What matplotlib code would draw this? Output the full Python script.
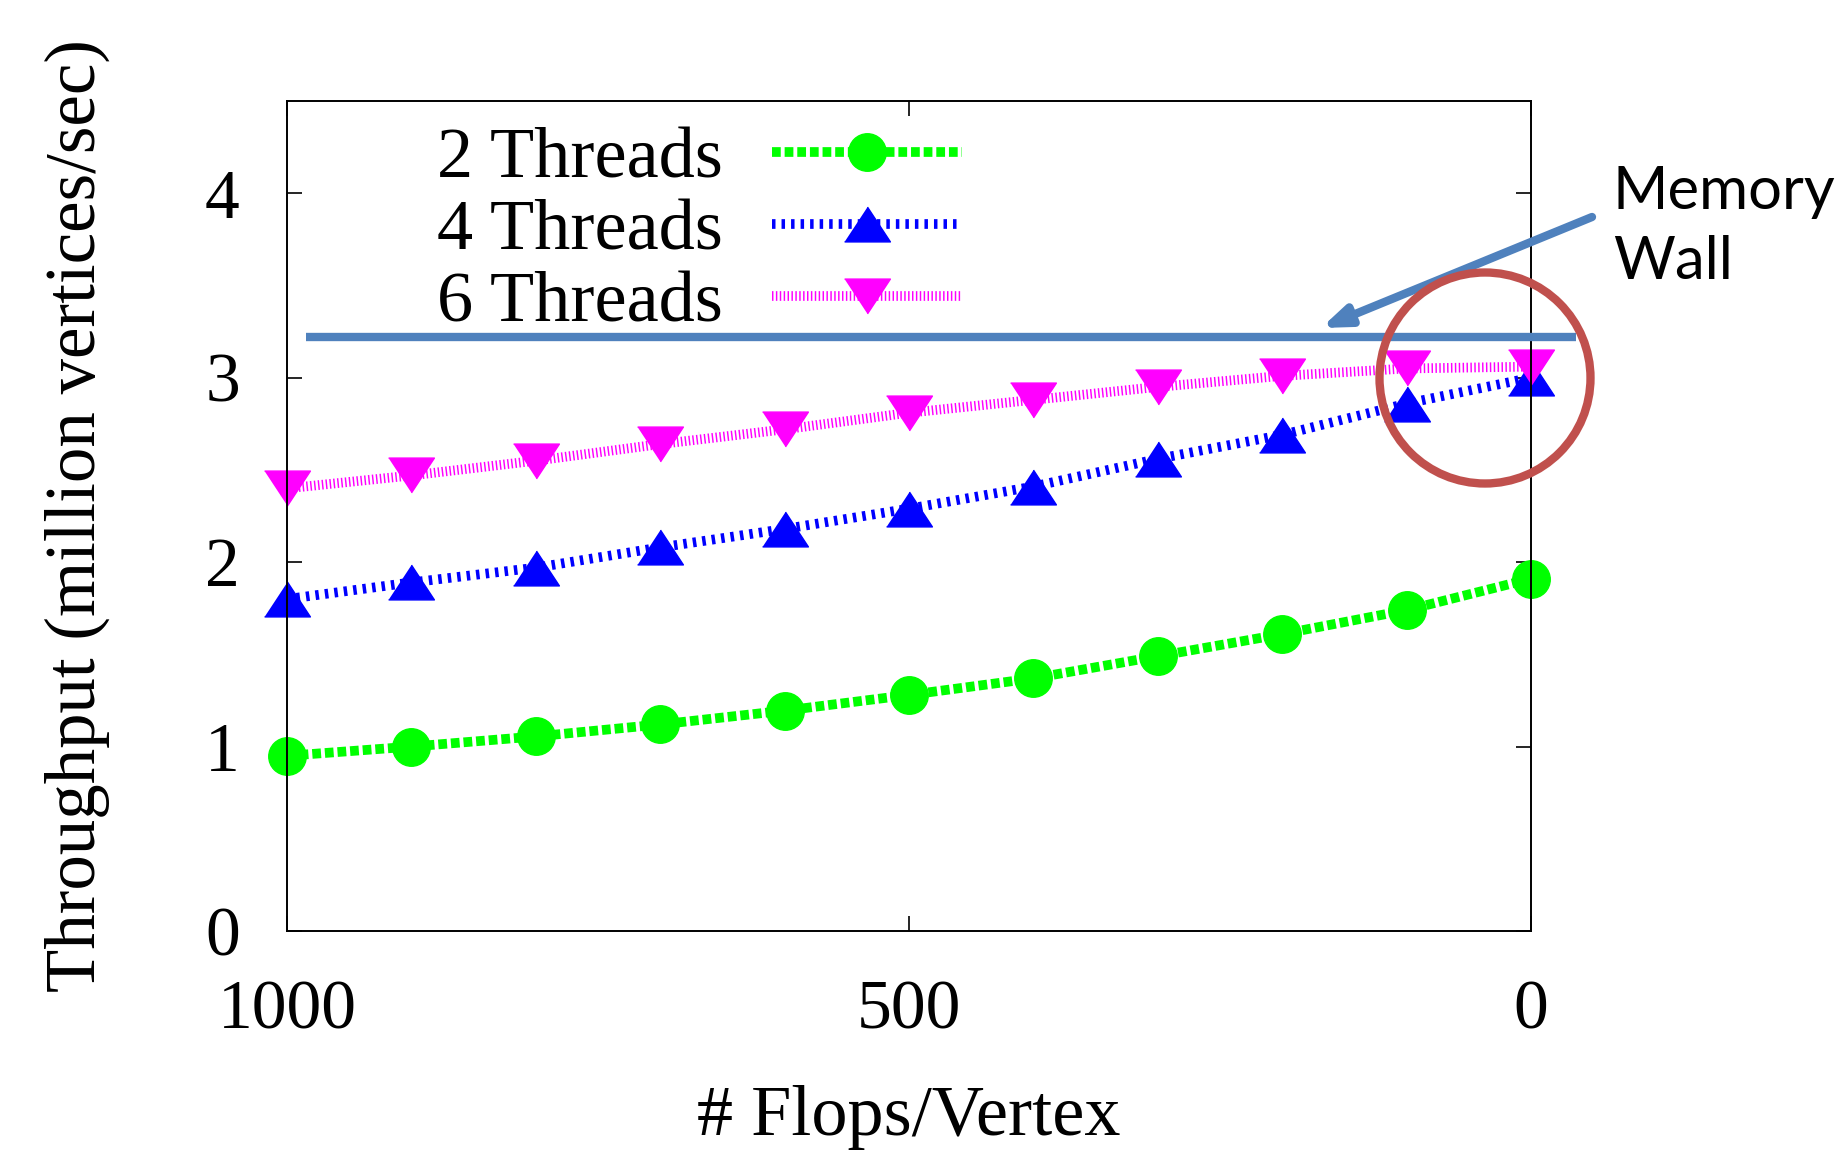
import matplotlib.pyplot as plt
from matplotlib.patches import Circle

flops = [1000, 900, 800, 700, 600, 500, 400, 300, 200, 100, 0]
threads2 = [0.95, 1.00, 1.055, 1.12, 1.195, 1.28, 1.37, 1.49, 1.61, 1.74, 1.91]
threads4 = [1.80, 1.89, 1.97, 2.08, 2.18, 2.29, 2.41, 2.56, 2.69, 2.86, 3.00]
threads6 = [2.40, 2.47, 2.55, 2.64, 2.72, 2.81, 2.88, 2.95, 3.01, 3.05, 3.06]
memory_wall = 3.22
wall_span = [985, -36]

serif = "Liberation Serif"
plt.rcParams["font.family"] = serif

fig = plt.figure(figsize=(18.45, 11.6), dpi=100)
ax = fig.add_axes([0.1556, 0.1974, 0.6742, 0.7155])

# wide triangles like gnuplot's
tri_up = [(-1, -0.76), (1, -0.76), (0, 0.76)]
tri_down = [(-1, 0.76), (1, 0.76), (0, -0.76)]

l2, = ax.plot(flops, threads2, color="#00ff00", lw=7, marker="o", ms=27,
              label="2 Threads", clip_on=False, solid_capstyle="butt")
l2.set_dashes((0.9, 0.4))
l2.set_dash_capstyle("butt")
l4, = ax.plot(flops, threads4, color="#0000ff", lw=7, marker=tri_up, ms=33,
              label="4 Threads", clip_on=False)
l4.set_dashes((0.36, 0.62))
l4.set_dash_capstyle("butt")
l6, = ax.plot(flops, threads6, color="#ff00ff", lw=7, marker=tri_down, ms=33,
              label="6 Threads", clip_on=False)
l6.set_dashes((0.15, 0.25))
l6.set_dash_capstyle("butt")

ax.set_xlim(1000, 0)
ax.set_ylim(0, 4.5)
ax.set_xticks([1000, 500, 0])
ax.set_yticks([0, 1, 2, 3, 4])
ax.tick_params(direction="in", top=True, right=True, length=11, width=1.2,
               labelsize=50)
ax.tick_params(axis="y", pad=34)
ax.tick_params(axis="x", pad=35)
for s in ax.spines.values():
    s.set_linewidth(1.4)

ax.set_xlabel("# Flops/Vertex", fontsize=52, labelpad=30)
ax.set_ylabel("Throughput (million vertices/sec)", fontsize=51)
ax.yaxis.set_label_coords(-0.142, 0.5)

ax.legend(loc="upper right", bbox_to_anchor=(998 / 1845, 1 - 91 / 1160),
          bbox_transform=fig.transFigure, frameon=False, markerfirst=False,
          fontsize=52, handlelength=2.63, handletextpad=0.68,
          labelspacing=0.09, borderpad=0, numpoints=1)

# memory wall annotation
ax.plot(wall_span, [memory_wall, memory_wall], color="#4f81bd", lw=6,
        clip_on=False, solid_capstyle="butt", zorder=4)
ax.annotate("", xy=(1321 / 1845, 1 - 328 / 1160), xycoords="figure fraction",
            xytext=(1592 / 1845, 1 - 217 / 1160), textcoords="figure fraction",
            arrowprops=dict(arrowstyle="-|>,head_length=1.6,head_width=0.6",
                            color="#4f81bd", lw=6, shrinkA=0, shrinkB=0))
fig.text(1613 / 1845, 1 - 279 / 1160, "Memory\nWall", fontsize=43,
         family="Lato", ha="left", va="baseline", linespacing=1.36)
fig.patches.append(Circle((14.85, 11.6 - 3.78), 1.055, transform=fig.dpi_scale_trans,
                          fill=False, edgecolor="#c0504d", lw=6, zorder=5))

fig.savefig("out.png", dpi=100)
